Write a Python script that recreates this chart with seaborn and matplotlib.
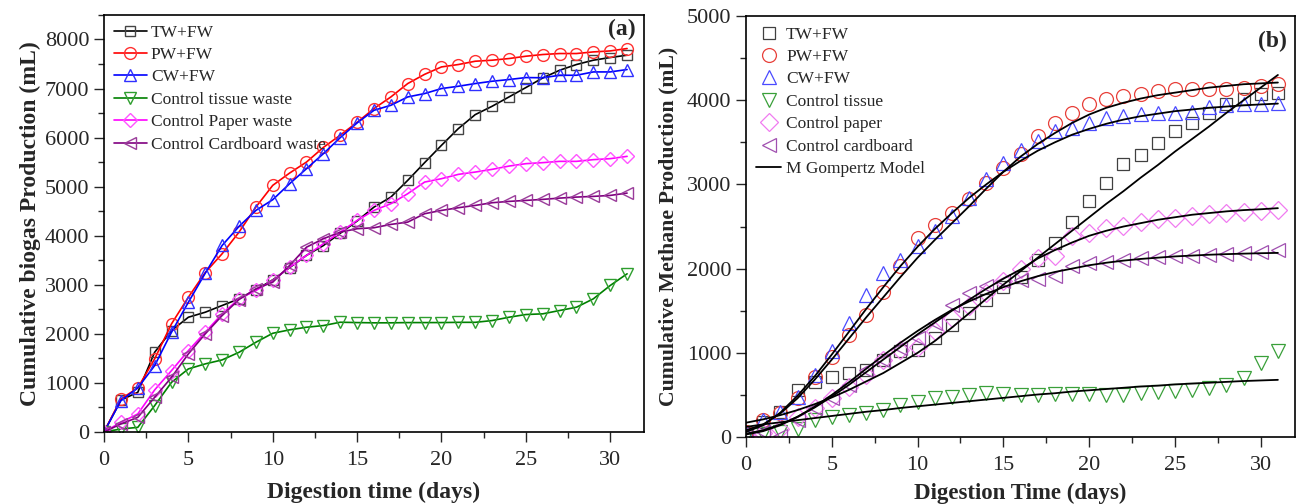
import numpy as np
import matplotlib
matplotlib.use("Agg")
import matplotlib.pyplot as plt
import seaborn as sns
from matplotlib.ticker import MultipleLocator

days = list(range(32))

# panel (a): cumulative biogas (mL)
tw_a = [0, 650, 808, 1625, 2067, 2339, 2441, 2578, 2714, 2900, 3100, 3350, 3600, 3800, 4050, 4300,
        4584, 4788, 5129, 5490, 5843, 6184, 6469, 6639, 6829, 7020, 7216, 7373, 7490, 7578, 7633, 7680]
pw_a = [0, 673, 898, 1490, 2204, 2747, 3250, 3633, 4073, 4584, 5027, 5278, 5502, 5800, 6050, 6312,
        6592, 6829, 7102, 7290, 7441, 7490, 7557, 7578, 7612, 7659, 7694, 7714, 7714, 7747, 7767, 7816]
cw_a = [0, 639, 898, 1353, 2033, 2645, 3237, 3802, 4190, 4516, 4735, 5061, 5367, 5673, 6000, 6300,
        6557, 6659, 6829, 6898, 7000, 7047, 7102, 7149, 7184, 7224, 7220, 7271, 7271, 7339, 7339, 7388]
tissue_a = [0, 61, 94, 537, 1012, 1286, 1388, 1469, 1624, 1829, 2012, 2082, 2135, 2169, 2237, 2230,
            2225, 2225, 2230, 2230, 2230, 2235, 2235, 2271, 2339, 2394, 2408, 2476, 2543, 2714, 2986, 3224]
paper_a = [0, 197, 367, 857, 1251, 1659, 2033, 2408, 2714, 2884, 3088, 3360, 3598, 3837, 4073, 4312,
           4516, 4653, 4857, 5094, 5163, 5251, 5298, 5353, 5420, 5469, 5490, 5516, 5516, 5551, 5571, 5618]
cardboard_a = [0, 163, 298, 706, 1114, 1592, 2000, 2373, 2700, 2918, 3053, 3394, 3767, 3939, 4073, 4143,
               4163, 4231, 4278, 4449, 4516, 4571, 4618, 4673, 4700, 4720, 4741, 4767, 4788, 4802, 4822, 4869]

# panel (b): cumulative methane (mL), measured
tw_b = [50, 180, 300, 560, 659, 718, 758, 798, 917, 1016, 1036, 1175, 1333, 1472, 1631, 1780,
        1900, 2100, 2306, 2551, 2801, 3020, 3238, 3349, 3488, 3635, 3734, 3853, 3952, 4012, 4071, 4091]
pw_b = [60, 202, 282, 460, 718, 956, 1214, 1452, 1718, 2028, 2365, 2524, 2663, 2821, 3020, 3190,
        3357, 3575, 3734, 3853, 3952, 4012, 4051, 4071, 4111, 4131, 4139, 4139, 4139, 4151, 4171, 4190]
cw_b = [50, 202, 301, 480, 738, 1016, 1353, 1690, 1948, 2107, 2266, 2444, 2623, 2841, 3060, 3258,
        3409, 3516, 3635, 3675, 3734, 3794, 3813, 3833, 3853, 3853, 3865, 3925, 3940, 3952, 3952, 3972]
tissue_b = [10, 40, 60, 90, 202, 242, 262, 282, 321, 381, 421, 460, 480, 500, 520, 510,
            500, 500, 508, 508, 508, 500, 500, 520, 540, 552, 560, 580, 619, 698, 877, 1016]
paper_b = [20, 50, 100, 242, 341, 460, 599, 738, 917, 1036, 1075, 1254, 1413, 1551, 1710, 1849,
           1990, 2127, 2147, 2385, 2425, 2484, 2512, 2551, 2591, 2603, 2623, 2643, 2663, 2670, 2682, 2694]
cardboard_b = [30, 63, 15, 202, 341, 460, 619, 798, 917, 1056, 1175, 1353, 1571, 1710, 1789, 1850,
               1860, 1877, 1908, 2028, 2067, 2075, 2107, 2127, 2139, 2147, 2155, 2167, 2179, 2187, 2194, 2226]

# panel (b): modified Gompertz curves
fit_tw = [170, 210, 260, 320, 390, 470, 560, 660, 760, 880, 1000, 1140, 1300, 1470, 1640, 1810,
          1970, 2130, 2290, 2450, 2610, 2770, 2920, 3080, 3230, 3390, 3540, 3690, 3850, 4000, 4150, 4300]
fit_pw = [80, 150, 280, 460, 680, 920, 1170, 1420, 1660, 1900, 2130, 2340, 2540, 2740, 2950, 3150,
          3330, 3480, 3610, 3730, 3830, 3910, 3970, 4020, 4060, 4090, 4120, 4150, 4170, 4190, 4200, 4210]
fit_cw = [60, 140, 290, 490, 720, 980, 1250, 1520, 1780, 2030, 2260, 2470, 2660, 2840, 3000, 3150,
          3280, 3400, 3500, 3590, 3660, 3720, 3770, 3810, 3840, 3870, 3890, 3910, 3925, 3940, 3950, 3960]
fit_tissue = [120, 150, 175, 200, 225, 250, 275, 300, 320, 345, 365, 385, 405, 425, 445, 465,
              485, 505, 520, 540, 555, 570, 585, 600, 610, 625, 635, 645, 655, 665, 672, 679]
fit_paper = [40, 80, 150, 240, 350, 480, 620, 770, 920, 1070, 1220, 1360, 1500, 1630, 1760, 1880,
             1990, 2120, 2220, 2310, 2390, 2450, 2500, 2540, 2580, 2610, 2640, 2660, 2680, 2695, 2705, 2718]
fit_cardboard = [30, 70, 140, 240, 360, 500, 650, 810, 970, 1120, 1260, 1390, 1510, 1610, 1700, 1780,
                 1850, 1910, 1960, 2000, 2040, 2070, 2095, 2115, 2130, 2145, 2155, 2165, 2172, 2178, 2183, 2187]

labels_a = ["TW+FW", "PW+FW", "CW+FW", "Control tissue waste", "Control Paper waste", "Control Cardboard waste"]
labels_b = ["TW+FW", "PW+FW", "CW+FW", "Control tissue", "Control paper", "Control cardboard"]

sns.set_style("ticks")
plt.rcParams["font.family"] = ["Liberation Serif", "DejaVu Serif"]

fig = plt.figure(figsize=(12.97, 5.04), dpi=100)
ax1 = fig.add_axes([0.0802, 0.1429, 0.4163, 0.8274])
ax2 = fig.add_axes([0.5752, 0.1329, 0.4233, 0.8353])

colors_a = ["black", "red", "blue", "green", "magenta", "purple"]
mk_a = ["s", "o", "^", "v", "D", "<"]
ms_a = [7.5, 8.5, 9, 9, 7, 9]
series_a = [tw_a, pw_a, cw_a, tissue_a, paper_a, cardboard_a]
edge_a = ["#444444", "#ff3030", "#3030ff", "#2e9e2e", "#ff55ff", "#9a3c9a"]

for vals, lab, c, m, s, ec in zip(series_a, labels_a, colors_a, mk_a, ms_a, edge_a):
    sns.lineplot(x=days, y=vals, ax=ax1, color=c, lw=1.2, marker=m, markersize=s,
                 markerfacecolor="none", markeredgecolor=ec, markeredgewidth=1.0, label=lab)

colors_b = ["#404040", "#e8403a", "#4a4aff", "#3aa03a", "#f07cf0", "#a050b0"]
ms_b = [8, 10, 10.5, 10.5, 9, 10.5]
series_b = [tw_b, pw_b, cw_b, tissue_b, paper_b, cardboard_b]
for vals, lab, c, m, s in zip(series_b, labels_b, colors_b, mk_a, ms_b):
    sns.lineplot(x=days, y=vals, ax=ax2, color=c, linestyle="", marker=m, markersize=s,
                 markerfacecolor="none", markeredgecolor=c, markeredgewidth=0.9, label=lab)

fits = [fit_tw, fit_pw, fit_cw, fit_tissue, fit_paper, fit_cardboard]
for i, f in enumerate(fits):
    sns.lineplot(x=days, y=f, ax=ax2, color="black", lw=1.3,
                 label="M Gompertz Model" if i == 0 else "_nolegend_")

for ax in (ax1, ax2):
    ax.set_xlim(0, 32)
    ax.xaxis.set_major_locator(MultipleLocator(5))
    ax.xaxis.set_minor_locator(MultipleLocator(2.5))
    ax.yaxis.set_major_locator(MultipleLocator(1000))
    ax.yaxis.set_minor_locator(MultipleLocator(500))
    ax.tick_params(which="major", direction="out", length=7.5, width=1.0, labelsize=16,
                   top=False, right=False)
    ax.tick_params(which="minor", direction="out", length=4.5, width=1.0, top=False, right=False)
    ax.tick_params(axis="x", which="major", pad=6)
    ax.tick_params(axis="y", which="major", pad=3)
    for sp in ax.spines.values():
        sp.set_visible(True)
        sp.set_linewidth(1.2)
        sp.set_color("black")

ax1.set_ylim(0, 8500)
ax2.set_ylim(0, 5000)

ax1.set_xlabel("Digestion time (days)", fontsize=17, fontweight="bold", labelpad=9)
ax1.set_ylabel("Cumulative biogas Production (mL)", fontsize=17, fontweight="bold", labelpad=3)
ax2.set_xlabel("Digestion Time (days)", fontsize=16.5, fontweight="bold", labelpad=6)
ax2.set_ylabel("Cumulative Methane Production (mL)", fontsize=15.7, fontweight="bold", labelpad=6)

ax1.text(0.985, 0.99, "(a)", transform=ax1.transAxes, ha="right", va="top",
         fontsize=17, fontweight="bold")
ax2.text(0.985, 0.965, "(b)", transform=ax2.transAxes, ha="right", va="top",
         fontsize=17, fontweight="bold")

ax1.legend(loc="upper left", frameon=False, fontsize=12.5, handlelength=1.9,
           handletextpad=0.25, labelspacing=0.36, borderaxespad=0.1, borderpad=0.45)
ax2.legend(loc="upper left", frameon=False, fontsize=12.5, handlelength=1.4,
           handletextpad=0.3, labelspacing=0.36, borderaxespad=0.1, borderpad=0.5)

fig.savefig("out.png", dpi=100)
